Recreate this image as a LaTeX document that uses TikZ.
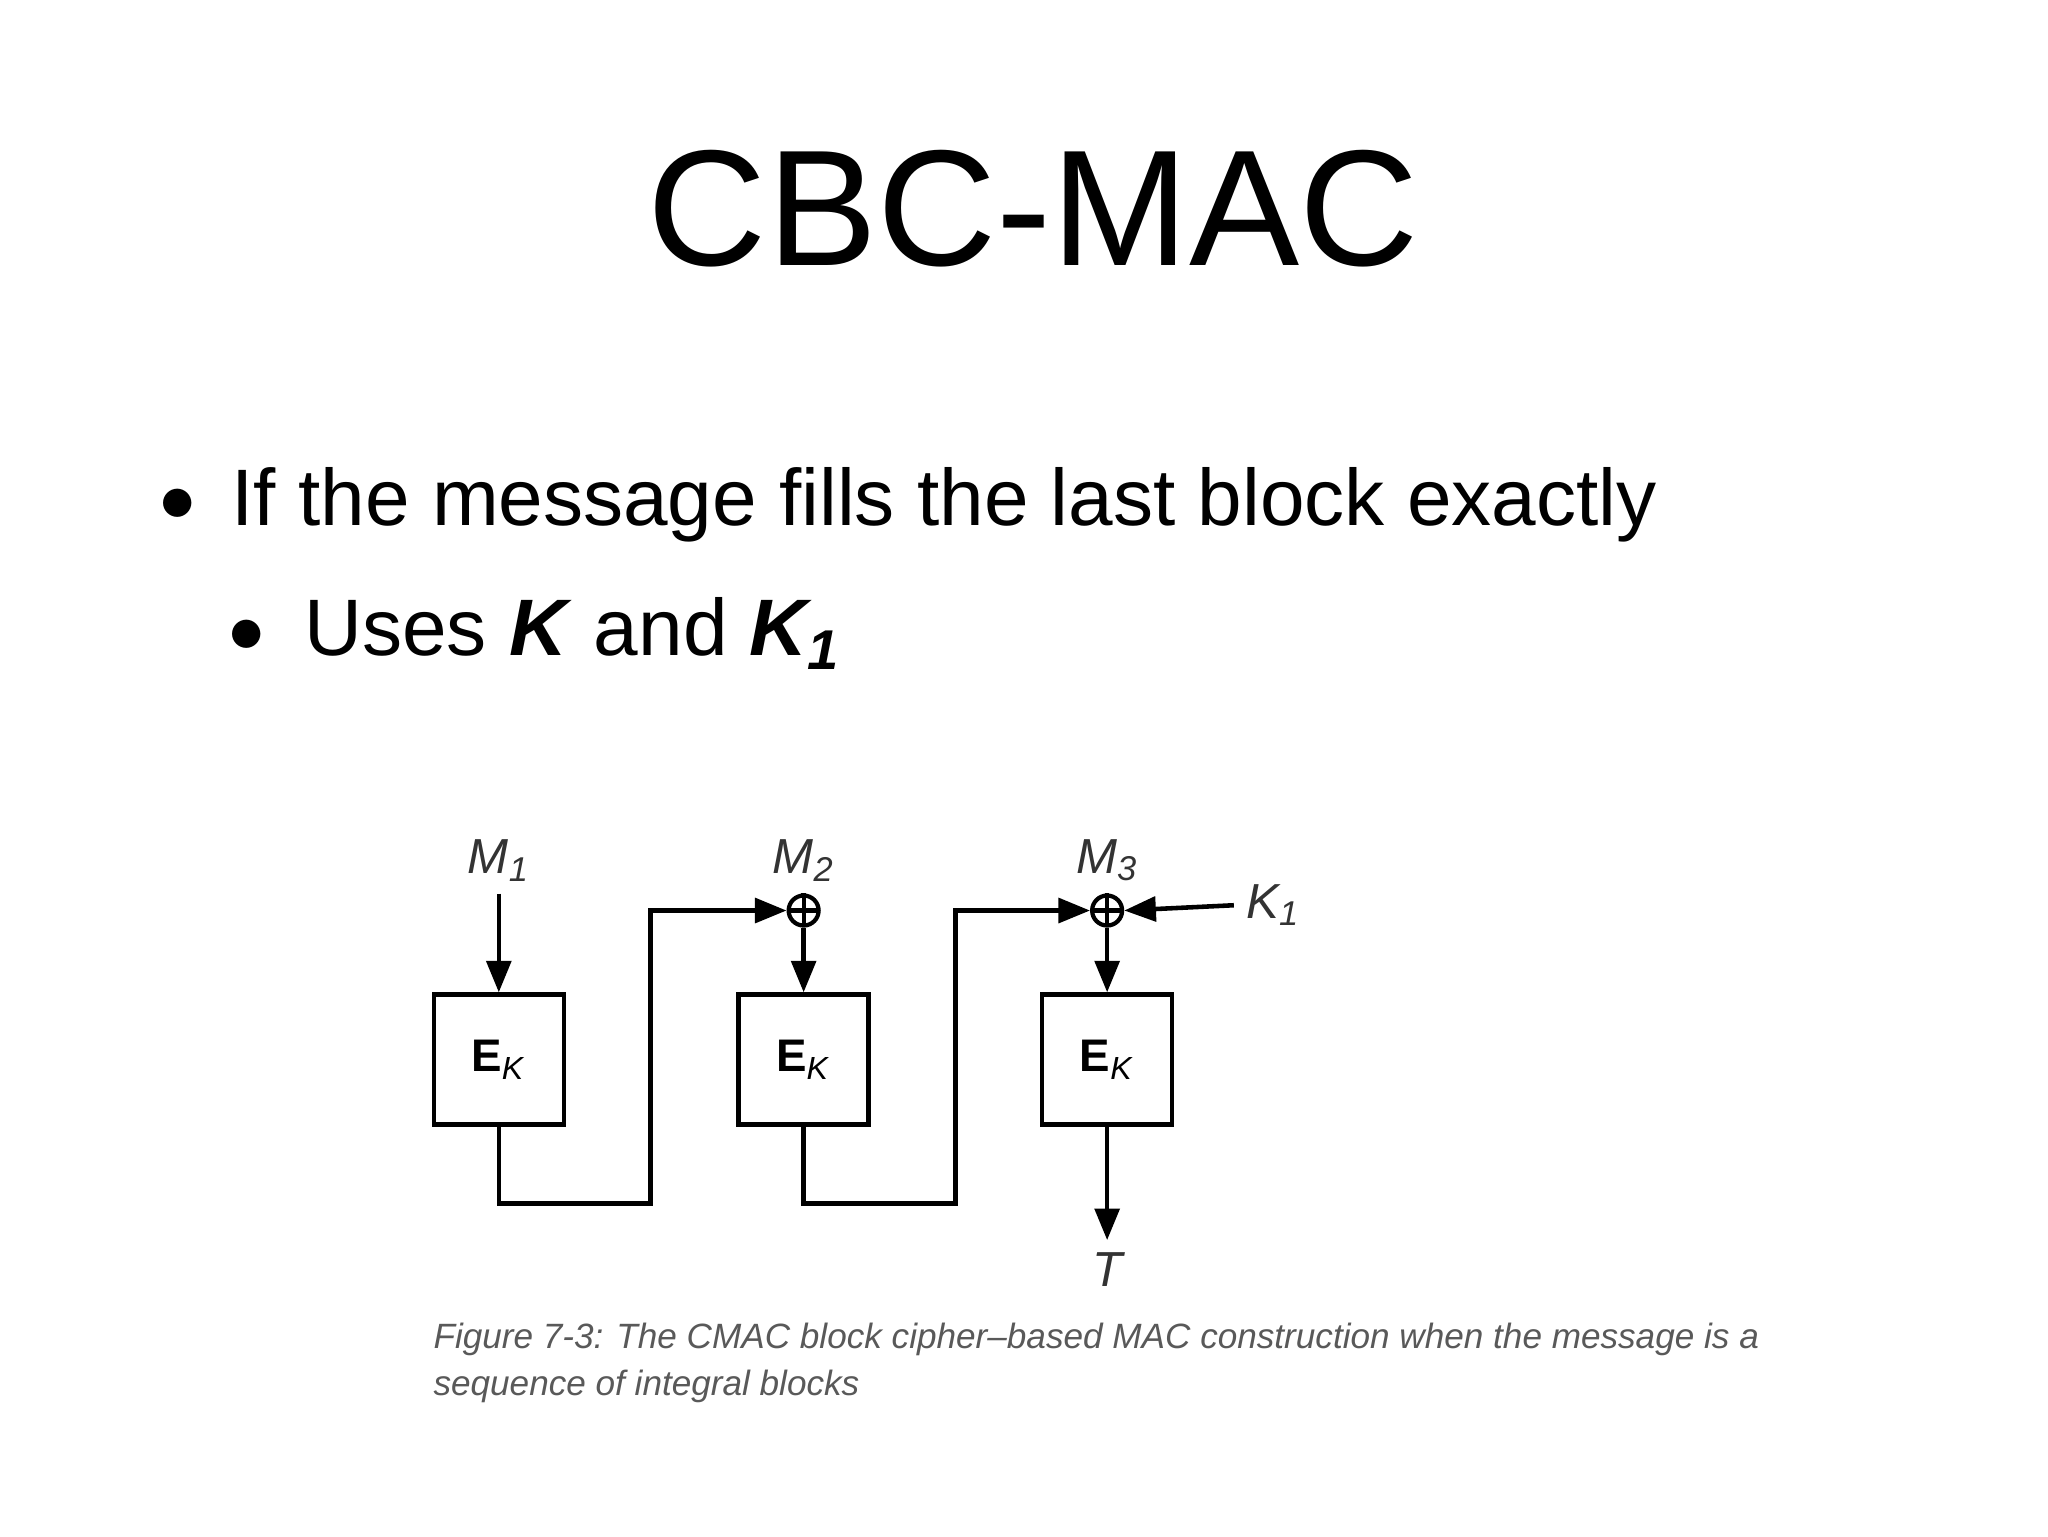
\documentclass[tikz,border=0pt]{standalone}
\usepackage{fontspec}
\setmainfont{Liberation Sans}
\usetikzlibrary{arrows.meta}
\begin{document}
\begin{tikzpicture}[x=0.013196cm,y=-0.013196cm,
  ln/.style={line width=1.3pt},
  arr/.style={ln,-{Triangle[length=9pt,width=7pt]}},
  box/.style={draw,line width=1.3pt,minimum width=1.3cm,minimum height=1.3cm,inner sep=0pt},
  lab/.style={font=\fontsize{14}{16}\selectfont\itshape,text=black!80},
  xor/.style={circle,draw,line width=1.2pt,minimum size=0.3cm,inner sep=0pt,path picture={\draw[line width=1.2pt] (path picture bounding box.north)--(path picture bounding box.south) (path picture bounding box.west)--(path picture bounding box.east);}}]
\useasboundingbox (0,0) rectangle (1552,1164);
\node[font=\fontsize{47}{56}\selectfont] (title) at (783,158) {CBC-MAC};
\node[anchor=base west,inner sep=0pt,font=\fontsize{22.8}{27}\selectfont] (b1) at (175,398) {If the message fills the last block exactly};
\node[font=\fontsize{22.8}{27}\selectfont] (d1) at (135,383) {$\bullet$};
\node[anchor=base west,inner sep=0pt,font=\fontsize{22.8}{27}\selectfont] (b2) at (230,497) {Uses \textbf{\textit{K}} and \textbf{\textit{K\textsubscript{1}}}};
\node[font=\fontsize{22.8}{27}\selectfont] (d2) at (187,482) {$\bullet$};
% boxes
\foreach \n/\x in {1/378,2/609,3/839}{
  \node[box] (E\n) at (\x,803) {\fontsize{13}{15}\selectfont\textbf{E}\textsubscript{\textit{K}}};
}
\node[lab] (M1) at (378,652) {M\textsubscript{1}};
\node[lab] (M2) at (609,652) {M\textsubscript{2}};
\node[lab] (M3) at (839,652) {M\textsubscript{3}};
\node[xor] (X2) at (609,690) {};
\node[xor] (X3) at (839,690) {};
\node[lab,anchor=west] (K1) at (935,686) {K\textsubscript{1}};
\node[lab] (T) at (839,962) {T};
\draw[arr] (M1) -- (E1);
\draw[ln] (M2) -- (X2);
\draw[ln] (M3) -- (X3);
\draw[arr] (X2) -- (E2);
\draw[arr] (X3) -- (E3);
\draw[arr] (E1.south) |- (493,912) |- (X2.west);
\draw[arr] (E2.south) |- (724,912) |- (X3.west);
\draw[arr] (K1.west) -- (X3.east);
\draw[arr] (E3) -- (T);
\node[anchor=north west,inner sep=0pt,align=left,text=black!65,font=\fontsize{10}{13.4}\selectfont\itshape] (cap) at (328,1002)
 {Figure 7-3: The CMAC block cipher--based MAC construction when the message is a\\sequence of integral blocks};
\end{tikzpicture}
\end{document}
